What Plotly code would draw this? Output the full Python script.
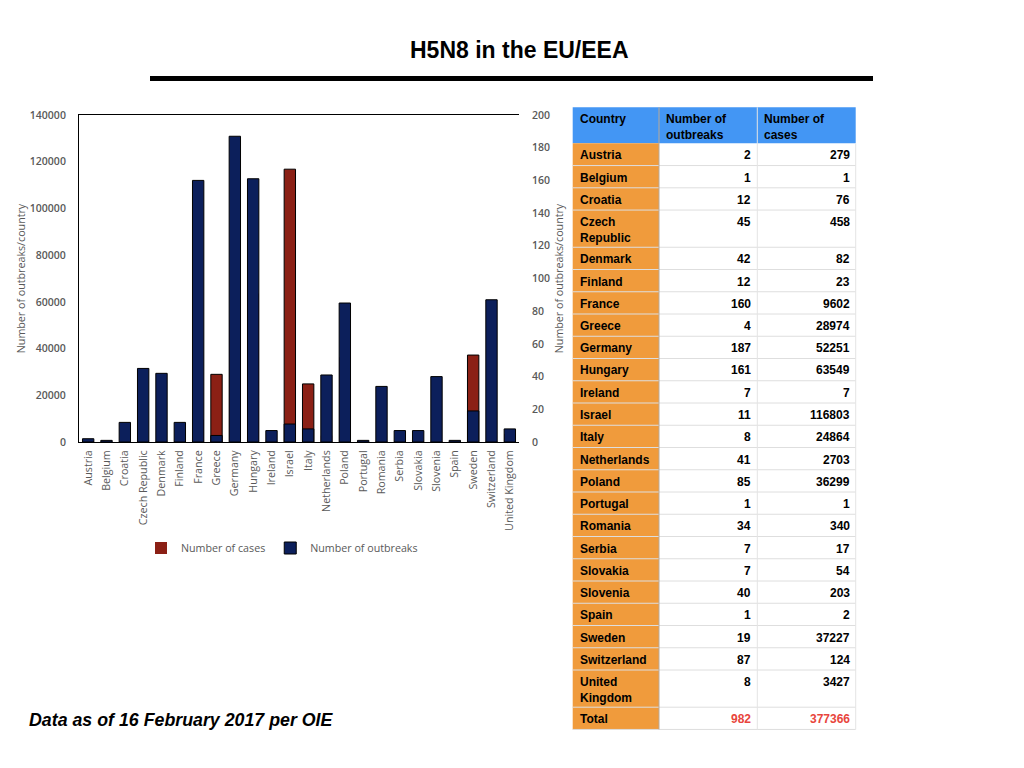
import plotly.graph_objects as go

countries = ["Austria", "Belgium", "Croatia", "Czech Republic", "Denmark", "Finland",
             "France", "Greece", "Germany", "Hungary", "Ireland", "Israel", "Italy",
             "Netherlands", "Poland", "Portugal", "Romania", "Serbia", "Slovakia",
             "Slovenia", "Spain", "Sweden", "Switzerland", "United Kingdom"]
outbreaks = [2, 1, 12, 45, 42, 12, 160, 4, 187, 161, 7, 11, 8, 41, 85, 1, 34, 7, 7,
             40, 1, 19, 87, 8]
cases = [279, 1, 76, 458, 82, 23, 9602, 28974, 52251, 63549, 7, 116803, 24864, 2703,
         36299, 1, 340, 17, 54, 203, 2, 37227, 124, 3427]
total_outbreaks = 982
total_cases = 377366
header = ["Country", "Number of<br>outbreaks", "Number of<br>cases"]

navy = "#0c1f5b"
red = "#8b2015"
grey = "#595959"
W, H = 1024, 768
OFF = 8  # the page body margin shifts the figure by 8px
Y1_MAX, Y2_MAX = 140000, 200


def px(x):
    return (x - OFF) / W


def py(y):
    return 1 - (y - OFF) / H


# only outline the red bars that stick out above the navy ones
case_edges = [1 if c / Y1_MAX > o / Y2_MAX else 0 for c, o in zip(cases, outbreaks)]

fig = go.Figure()

# cases behind, outbreaks in front
fig.add_trace(go.Bar(
    x=countries, y=cases, name="Number of cases",
    marker=dict(color=red, line=dict(color="black", width=case_edges)),
    width=0.62, yaxis="y"
))
fig.add_trace(go.Bar(
    x=countries, y=outbreaks, name="Number of outbreaks",
    marker=dict(color=navy, line=dict(color="black", width=1)),
    width=0.62, yaxis="y2"
))

tick_font = dict(size=10.5, color=grey, weight=600)

fig.update_layout(
    width=W, height=H,
    margin=dict(l=0, r=0, t=0, b=0, autoexpand=False),
    paper_bgcolor="white", plot_bgcolor="white",
    barmode="overlay",
    font=dict(family="Open Sans", color=grey),
    xaxis=dict(
        domain=[px(79), px(519)], automargin=False,
        tickangle=-90, tickfont=dict(size=10.7, color=grey), ticklabelstandoff=3,
        showline=True, linecolor="black", linewidth=1, mirror=True,
        ticks="", showgrid=False
    ),
    yaxis=dict(
        domain=[py(442), py(115)], automargin=False,
        range=[0, Y1_MAX], dtick=20000, tickformat="d",
        tickfont=tick_font, ticklabelstandoff=10,
        title=dict(text="Number of outbreaks/country", font=dict(size=10.7, color=grey), standoff=2),
        showline=True, linecolor="black", linewidth=1,
        showgrid=False, zeroline=False, ticks=""
    ),
    yaxis2=dict(
        overlaying="y", side="right", automargin=False,
        range=[0, Y2_MAX], dtick=20,
        tickfont=tick_font, ticklabelstandoff=12,
        title=dict(text="Number of outbreaks/country", font=dict(size=10.7, color=grey), standoff=6),
        showgrid=False, zeroline=False, ticks="", showline=False
    ),
    legend=dict(
        orientation="h", x=px(282), xanchor="center", y=py(548), yanchor="middle",
        font=dict(size=10.7, color=grey), traceorder="normal", itemwidth=30
    ),
    showlegend=True
)

# slide title and rule
fig.add_annotation(
    text="<b>H5N8 in the EU/EEA</b>", xref="paper", yref="paper",
    x=px(519), y=py(50), yanchor="middle", showarrow=False,
    font=dict(family="Liberation Sans", size=23, color="black")
)
fig.add_shape(
    type="line", xref="paper", yref="paper",
    x0=px(150), x1=px(873), y0=py(78.5), y1=py(78.5),
    line=dict(color="black", width=5)
)
fig.add_annotation(
    text="<b><i>Data as of 16 February 2017 per OIE</i></b>", xref="paper", yref="paper",
    x=px(27), y=py(720), xanchor="left", yanchor="middle", showarrow=False,
    font=dict(family="Liberation Sans", size=17.8, color="black")
)

# data table drawn from the arrays
col_x = [572.7, 659, 757.3, 855.7]
head_top, head_bot = 107.3, 143.3
rows = [(n.replace(" ", "<br>") if n in ("Czech Republic", "United Kingdom") else n,
         str(o), str(c), "black") for n, o, c in zip(countries, outbreaks, cases)]
rows.append(("Total", str(total_outbreaks), str(total_cases), "#e8453c"))
tops = []
y = head_bot
for r in rows:
    tops.append(y)
    y += 37.2 if "<br>" in r[0] else 22.25
table_bot = y

cell_font = dict(family="Liberation Sans", size=12, color="black")

fig.add_shape(type="rect", xref="paper", yref="paper", layer="below",
              x0=px(col_x[0]), x1=px(col_x[3]), y0=py(head_top), y1=py(head_bot),
              fillcolor="#4396f4", line=dict(width=0))
fig.add_shape(type="rect", xref="paper", yref="paper", layer="below",
              x0=px(col_x[0]), x1=px(col_x[1]), y0=py(head_bot), y1=py(table_bot),
              fillcolor="#f09b3c", line=dict(width=0))

for i, h in enumerate(header):
    fig.add_annotation(text="<b>%s</b>" % h, xref="paper", yref="paper",
                       x=px(col_x[i] + 5), y=py(head_top + 3), xanchor="left", yanchor="top",
                       showarrow=False, align="left", font=cell_font)

for top, (name, o, c, num_color) in zip(tops, rows):
    fig.add_annotation(text="<b>%s</b>" % name, xref="paper", yref="paper",
                       x=px(col_x[0] + 5), y=py(top + 3), xanchor="left", yanchor="top",
                       showarrow=False, align="left", font=cell_font)
    for j, v in ((1, o), (2, c)):
        fig.add_annotation(text="<b>%s</b>" % v, xref="paper", yref="paper",
                           x=px(col_x[j + 1] - 4), y=py(top + 3), xanchor="right", yanchor="top",
                           showarrow=False, align="right",
                           font=dict(family="Liberation Sans", size=12, color=num_color))

# grid lines
for top in tops[1:] + [table_bot]:
    fig.add_shape(type="line", xref="paper", yref="paper",
                  x0=px(col_x[0]), x1=px(col_x[3]), y0=py(top), y1=py(top),
                  line=dict(color="#dedede", width=1))
fig.add_shape(type="line", xref="paper", yref="paper",
              x0=px(col_x[1]), x1=px(col_x[1]), y0=py(head_top), y1=py(table_bot),
              line=dict(color="#b8a898", width=1))
fig.add_shape(type="line", xref="paper", yref="paper",
              x0=px(col_x[2]), x1=px(col_x[2]), y0=py(head_top), y1=py(table_bot),
              line=dict(color="#e4e4e4", width=1))
fig.add_shape(type="line", xref="paper", yref="paper",
              x0=px(col_x[3]), x1=px(col_x[3]), y0=py(head_bot), y1=py(table_bot),
              line=dict(color="#e4e4e4", width=1))

fig.write_html("out.html")
